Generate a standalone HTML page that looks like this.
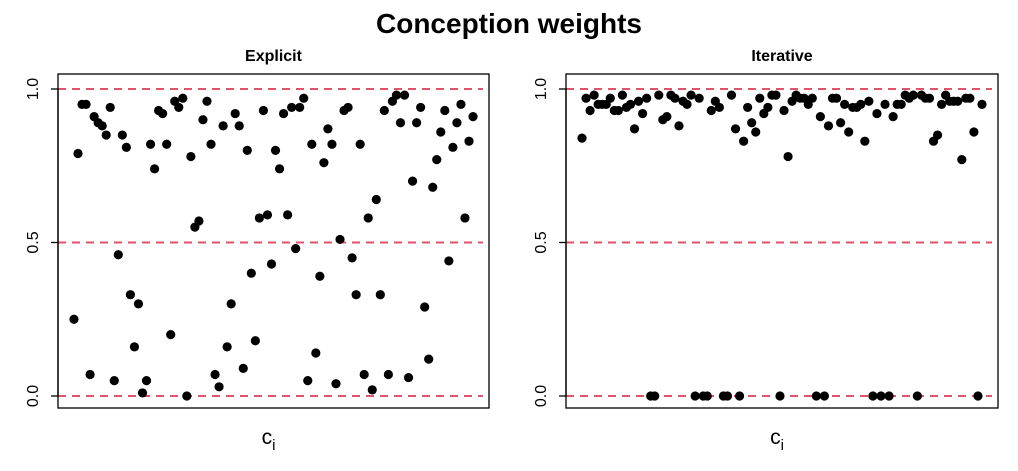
<!DOCTYPE html>
<html><head><meta charset="utf-8"><style>
body{margin:0;background:#fff;}
svg text{font-family:"Liberation Sans",Arial,sans-serif;}
</style></head><body>
<svg id="chart" width="1018" height="466" viewBox="0 0 1018 466" xmlns="http://www.w3.org/2000/svg">
<rect width="1018" height="466" fill="#fff"/>
<text x="509" y="33" font-size="28" font-weight="bold" text-anchor="middle">Conception weights</text>
<g id="panels"></g>
</svg>
<script>
const explicitValues=[0.25,0.79,0.95,0.95,0.07,0.91,0.89,0.88,0.85,0.94,0.05,0.46,0.85,0.81,0.33,0.16,0.30,0.01,0.05,0.82,0.74,0.93,0.92,0.82,0.20,0.96,0.94,0.97,0.00,0.78,0.55,0.57,0.90,0.96,0.82,0.07,0.03,0.88,0.16,0.30,0.92,0.88,0.09,0.80,0.40,0.18,0.58,0.93,0.59,0.43,0.80,0.74,0.92,0.59,0.94,0.48,0.94,0.97,0.05,0.82,0.14,0.39,0.76,0.87,0.82,0.04,0.51,0.93,0.94,0.45,0.33,0.82,0.07,0.58,0.02,0.64,0.33,0.93,0.07,0.96,0.98,0.89,0.98,0.06,0.70,0.89,0.94,0.29,0.12,0.68,0.77,0.86,0.93,0.44,0.81,0.89,0.95,0.58,0.83,0.91];
const iterativeValues=[0.84,0.97,0.93,0.98,0.95,0.95,0.95,0.97,0.93,0.93,0.98,0.94,0.95,0.87,0.96,0.92,0.97,0,0,0.98,0.90,0.91,0.98,0.97,0.88,0.96,0.95,0.98,0,0.97,0,0,0.93,0.96,0.94,0,0,0.98,0.87,0,0.83,0.94,0.89,0.86,0.97,0.92,0.94,0.98,0.98,0,0.93,0.78,0.96,0.98,0.97,0.97,0.95,0.97,0,0.91,0,0.88,0.97,0.97,0.89,0.95,0.86,0.94,0.94,0.95,0.83,0.96,0,0.92,0,0.95,0,0.91,0.95,0.95,0.98,0.97,0.98,0,0.98,0.97,0.97,0.83,0.85,0.95,0.98,0.96,0.96,0.96,0.77,0.97,0.97,0.86,0,0.95];
const panelTitles=["Explicit","Iterative"];
const yTicks=[0,0.5,1];
const yTickLabels=["0.0","0.5","1.0"];
const refLines=[0,0.5,1];

const NS="http://www.w3.org/2000/svg";
const g=document.getElementById('panels');
function mk(tag,attrs,parent){const e=document.createElementNS(NS,tag);for(const k in attrs)e.setAttribute(k,attrs[k]);(parent||g).appendChild(e);return e;}
const panels=[{x0:58,x1:489,vals:explicitValues,title:panelTitles[0]},{x0:566,x1:998,vals:iterativeValues,title:panelTitles[1]}];
const yTop=74,yBot=408;
function yScale(v){return 396-v*307;}
panels.forEach((p,pi)=>{
  const n=p.vals.length;
  const span=(n-1)*1.08;
  const xScale=i=>p.x0+(i+(n-1)*0.04)/span*(p.x1-p.x0);
  const grp=mk('g',{});
  
  
  refLines.forEach(r=>{
    const l=mk('line',{x1:p.x0,x2:p.x1-6,y1:yScale(r),y2:yScale(r),stroke:'#DF536B','stroke-width':2,'stroke-dasharray':'8 6'},grp);
    
    
  });
  p.vals.forEach((v,i)=>{
    const c=mk('circle',{cx:xScale(i),cy:yScale(v),r:4.6,fill:'#000'},grp);
    
    
  });
  const box=mk('rect',{x:p.x0,y:yTop,width:p.x1-p.x0,height:yBot-yTop,fill:'none',stroke:'#000','stroke-width':1.3},grp);
  
  
  yTicks.forEach((t,k)=>{
    const y=yScale(t);
    const tk=mk('line',{x1:p.x0-7,x2:p.x0,y1:y,y2:y,stroke:'#000','stroke-width':1.3},grp);
    
    
    const lx=p.x0-20;
    const tl=mk('text',{x:lx,y:y,'font-size':16,'text-anchor':'middle',transform:`rotate(-90 ${lx} ${y})`},grp);
    tl.textContent=yTickLabels[k];
    
    
  });
  const ax=mk('line',{x1:p.x0,x2:p.x0,y1:yScale(0),y2:yScale(1),stroke:'#000','stroke-width':1.3},grp);
  
  
  const cx=(p.x0+p.x1)/2;
  const tt=mk('text',{x:cx,y:61,'font-size':16,'font-weight':'bold','text-anchor':'middle'},grp);
  tt.textContent=p.title;
  
  
  const xl=mk('text',{x:cx-5,y:444,'font-size':21,'text-anchor':'middle'},grp);
  xl.textContent='c';
  
  
  const sub=mk('tspan',{'font-size':15,dy:6},xl);
  sub.textContent='i';
});
</script>
</body></html>
